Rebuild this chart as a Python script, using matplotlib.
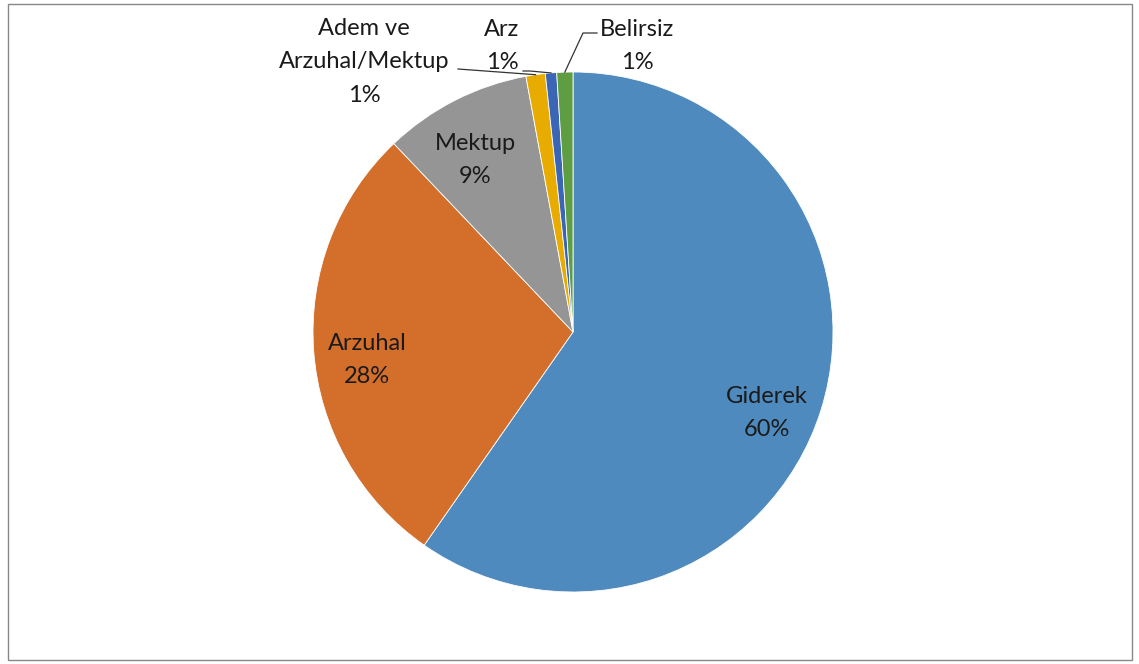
import matplotlib.pyplot as plt
import numpy as np

plt.rcParams['font.family'] = ['Lato', 'DejaVu Sans']

labels = ['Giderek', 'Arzuhal', 'Mektup', 'Adem ve\nArzuhal/Mektup', 'Arz', 'Belirsiz']
values = [59.7, 28.2, 9.2, 1.2, 0.7, 1.0]
colors = ['#4F8ABE', '#D36E2B', '#959595', '#E8AC00', '#3B66B6', '#5E9D41']

# label centres in pixels (x from left, y from top)
label_px = [(767, 413), (367, 360), (475, 160), (364, 62), (502, 46), (637, 46)]
W, H = 1139, 664
CX, CY, R = 573, 332, 260


def px2d(x, y):
    return (x - CX) / R, (CY - y) / R


fig = plt.figure(figsize=(W / 100, H / 100), dpi=100)
fig.patches.append(plt.Rectangle((8 / W, 4 / H), 1124 / W, 656 / H, transform=fig.transFigure,
                                 fill=False, edgecolor='#888888', linewidth=1))
ax = fig.add_axes([(CX - R) / W, (H - CY - R) / H, 2 * R / W, 2 * R / H])

wedges, _ = ax.pie(values, colors=colors, startangle=90, counterclock=False, radius=1,
                   wedgeprops=dict(edgecolor='white', linewidth=0.6))
ax.set_xlim(-1, 1)
ax.set_ylim(-1, 1)
ax.axis('off')

total = sum(values)
cum = np.cumsum([0] + values)
for i, (lab, v) in enumerate(zip(labels, values)):
    x, y = px2d(*label_px[i])
    ax.text(x, y, f"{lab}\n{round(v / total * 100):.0f}%", ha='center', va='center',
            fontsize=17, linespacing=1.72, color='#1a1a1a', clip_on=False)

# leader lines for the small slices
mid = lambda i: np.deg2rad(90 - 360 * (cum[i] + values[i] / 2) / total)
leaders = {3: [(458, 69)], 4: [(523, 71), (530, 71)], 5: [(597, 33), (583, 33)]}
for i, pts in leaders.items():
    xs = [px2d(*p)[0] for p in pts] + [np.cos(mid(i))]
    ys = [px2d(*p)[1] for p in pts] + [np.sin(mid(i))]
    ax.plot(xs, ys, color='#333333', linewidth=0.9, clip_on=False)

fig.savefig('out.png', dpi=100)
